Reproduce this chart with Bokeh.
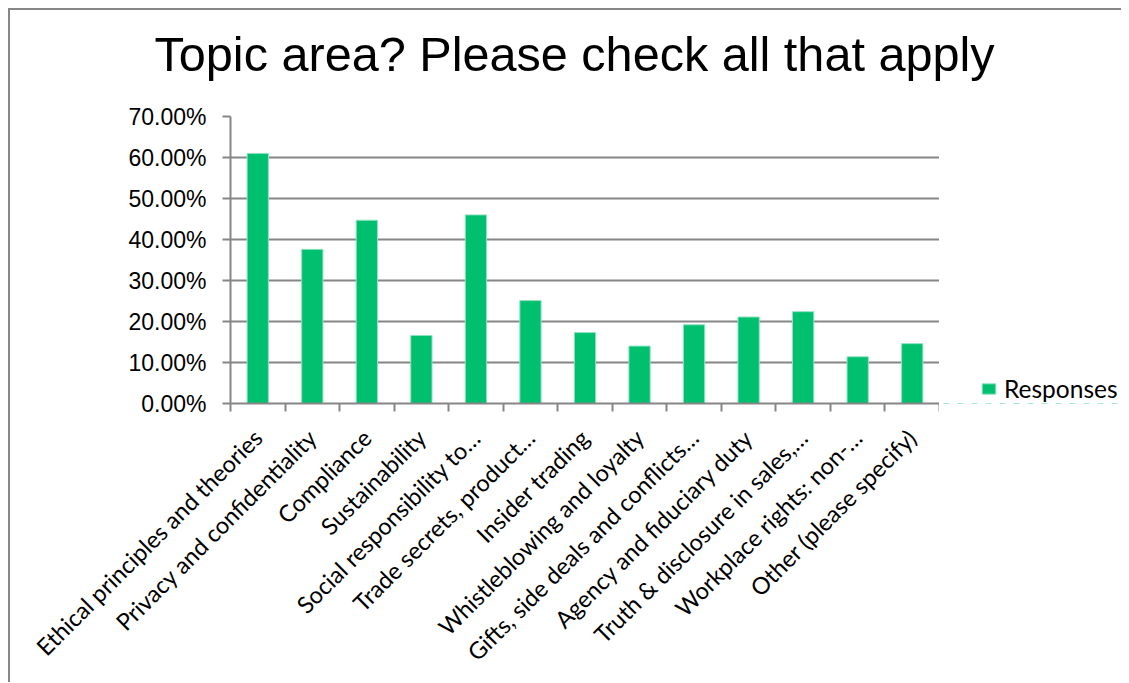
from bokeh.plotting import figure
from bokeh.layouts import row, column
from bokeh.models import (FactorRange, Range1d, LinearAxis, CategoricalAxis, FixedTicker,
                          NumeralTickFormatter, Legend, LegendItem, Title, ColumnDataSource)
from bokeh.embed import file_html
from bokeh.resources import INLINE
import math

# ---- data ----
categories = [
    "Ethical principles and theories",
    "Privacy and confidentiality",
    "Compliance",
    "Sustainability",
    "Social responsibility to\u2026",
    "Trade secrets, product\u2026",
    "Insider trading",
    "Whistleblowing and loyalty",
    "Gifts, side deals and conflicts\u2026",
    "Agency and fiduciary duty",
    "Truth & disclosure in sales,\u2026",
    "Workplace rights: non-\u2026",
    "Other (please specify)",
]
responses = [0.610, 0.376, 0.447, 0.166, 0.460, 0.251, 0.173, 0.140, 0.192, 0.211, 0.224, 0.114, 0.146]
y_ticks = [0.0, 0.1, 0.2, 0.3, 0.4, 0.5, 0.6, 0.7]
series_name = "Responses"
title_text = "Topic area? Please check all that apply"

GREEN = "#00BF6F"
EDGE = "#8FE3BF"
GRAY = "#868686"
LABEL_FONT = "Lato"

source = ColumnDataSource(data=dict(cat=categories, val=responses))

# ---- title strip ----
tf = figure(width=1111, height=90, x_range=Range1d(0, 1), y_range=Range1d(0, 1),
            x_axis_location=None, y_axis_location=None,
            output_backend="svg", toolbar_location=None,
            min_border_left=220, min_border_right=182, min_border_top=0, min_border_bottom=0)
tf.outline_line_color = None
tf.grid.visible = False
tf.border_fill_color = "white"
tf.background_fill_color = "white"
tf.add_layout(Title(text=title_text, align="left", offset=-76,
                    text_font="Liberation Sans", text_font_size="48.6px",
                    text_font_style="normal", text_color="black", standoff=28), "above")

# ---- main chart ----
p = figure(
    width=929, height=582,
    x_range=FactorRange(factors=categories, range_padding=0),
    y_range=Range1d(0, 0.7),
    x_axis_location=None,
    output_backend="svg", toolbar_location=None,
    min_border_left=220, min_border_right=0, min_border_top=16, min_border_bottom=279,
)
p.outline_line_color = None
p.background_fill_color = "white"
p.border_fill_color = "white"

bars = p.vbar(x="cat", top="val", width=0.39, source=source,
              fill_color=GREEN, line_color=EDGE, line_width=1)

# y axis
yax = p.yaxis[0]
yax.ticker = FixedTicker(ticks=y_ticks)
yax.formatter = NumeralTickFormatter(format="0.00%")
yax.axis_line_color = GRAY
yax.axis_line_width = 2
yax.major_tick_line_color = GRAY
yax.major_tick_line_width = 2
yax.major_tick_in = 0
yax.major_tick_out = 8
yax.minor_tick_line_color = None
yax.major_label_text_font = "Liberation Sans"
yax.major_label_text_font_size = "23px"
yax.major_label_text_color = "black"
yax.major_label_standoff = 16

p.xgrid.visible = False
p.ygrid.grid_line_color = GRAY
p.ygrid.grid_line_width = 2
p.ygrid.ticker = FixedTicker(ticks=y_ticks)

# x axis: tick marks at category boundaries (synthetic coordinates 0..N of the factor range)
edge_ticks = list(range(len(categories) + 1))
tick_axis = LinearAxis(ticker=FixedTicker(ticks=edge_ticks))
tick_axis.axis_line_color = GRAY
tick_axis.axis_line_width = 2
tick_axis.major_tick_line_color = GRAY
tick_axis.major_tick_line_width = 2
tick_axis.major_tick_in = 0
tick_axis.major_tick_out = 8
tick_axis.minor_tick_line_color = None
tick_axis.major_label_overrides = {t: "" for t in edge_ticks}
tick_axis.major_label_text_font_size = "1px"
tick_axis.major_label_standoff = 0
p.add_layout(tick_axis, "below")

# x axis: category labels
lab_axis = CategoricalAxis()
lab_axis.axis_line_color = None
lab_axis.major_tick_line_color = None
lab_axis.minor_tick_line_color = None
lab_axis.major_tick_out = 0
lab_axis.major_tick_in = 0
lab_axis.major_label_orientation = math.pi / 4
lab_axis.major_label_text_font = LABEL_FONT
lab_axis.major_label_text_font_size = "23.5px"
lab_axis.major_label_text_color = "black"
lab_axis.major_label_standoff = 22
p.add_layout(lab_axis, "below")

# ---- legend panel to the right of the plot area ----
# same series, drawn on a y range above all values so only its legend key shows
p2 = figure(width=182, height=582, x_range=FactorRange(factors=categories, range_padding=0),
            y_range=Range1d(1, 2),
            x_axis_location=None, y_axis_location=None,
            output_backend="svg", toolbar_location=None, min_border=0)
p2.outline_line_color = None
p2.grid.visible = False
p2.background_fill_color = "white"
p2.border_fill_color = "white"
key = p2.vbar(x="cat", top="val", width=0.39, source=source,
              fill_color=GREEN, line_color=EDGE, line_width=1)
legend = Legend(items=[LegendItem(label=series_name, renderers=[key])],
                location=(41, 0), orientation="vertical",
                padding=0, margin=0, spacing=0,
                border_line_color=None, background_fill_alpha=0,
                glyph_width=17, glyph_height=13, label_standoff=7,
                label_text_font=LABEL_FONT, label_text_font_size="24.5px",
                label_text_color="black", label_height=13)
p2.add_layout(legend, "center")

layout = column(tf, row(p, p2, spacing=0), spacing=0,
                styles={"margin-left": "8px", "margin-top": "8px",
                        "border-left": "2px solid #878787", "border-top": "2px solid #878787"})

open("out.html", "w").write(file_html(layout, INLINE))
